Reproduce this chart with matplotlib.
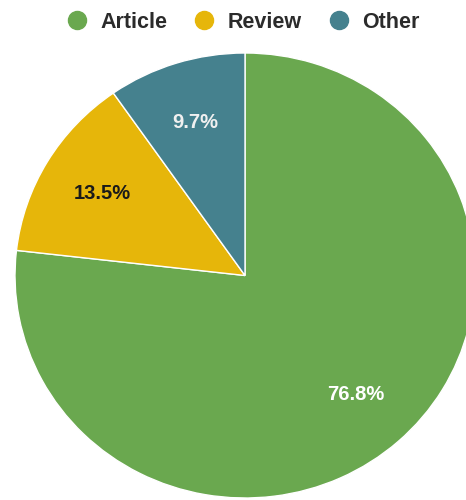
import matplotlib.pyplot as plt
from matplotlib.lines import Line2D

plt.rcParams["font.family"] = ["Liberation Sans", "DejaVu Sans"]

# Document types share
labels = ["Article", "Review", "Other"]
shares = [76.8, 13.5, 9.7]
colors = ["#6aa84f", "#e6b60a", "#45818e"]
text_colors = ["white", "#1a1a1a", "#f0f0f0"]

fig = plt.figure(figsize=(4.66, 5.0), dpi=100)
ax = fig.add_axes([15 / 466, 2 / 500, 460 / 466, 445 / 500])

wedges, texts, autotexts = ax.pie(
    shares,
    colors=colors,
    startangle=90,
    counterclock=False,
    autopct="%.1f%%",
    pctdistance=0.72,
    wedgeprops=dict(edgecolor="white", linewidth=1),
    textprops=dict(fontsize=14.5, fontweight="bold"),
)
for t, c in zip(autotexts, text_colors):
    t.set_color(c)

ax.set_xlim(-1, 1)
ax.set_ylim(-1, 1)
ax.set_aspect("auto")
ax.axis("off")

# Legend on top with round markers
handles = [
    Line2D([], [], marker="o", linestyle="", markersize=13, color=c)
    for c in colors
]
fig.legend(
    handles,
    labels,
    loc="center",
    bbox_to_anchor=(243 / 466, 1 - 22 / 500),
    ncol=3,
    frameon=False,
    handletextpad=0.6,
    columnspacing=1.2,
    handlelength=1.0,
    prop=dict(size=15.5, weight="bold"),
    labelcolor="#2b2b2b",
)

fig.savefig("out.png", dpi=100)
